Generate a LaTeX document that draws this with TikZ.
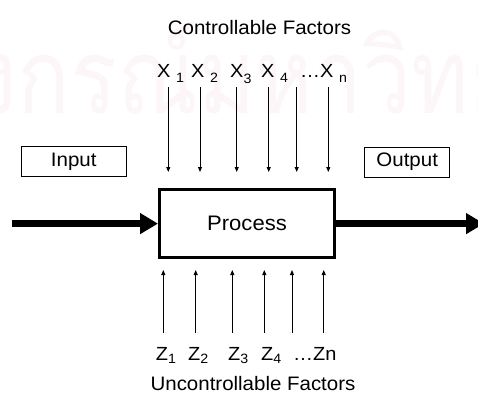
\documentclass[tikz,border=0pt]{standalone}
\usepackage{fontspec}
\setmainfont{Liberation Sans}[FakeStretch=1.05]
\newfontfamily\thaifont[Script=Thai, FakeStretch=0.84]{Loma}
\usetikzlibrary{arrows.meta}
\definecolor{watermark}{RGB}{253,246,249}

\newcommand\fsz[1]{\fontsize{#1}{#1}\selectfont}
\newcommand\lowsub[2]{\raisebox{-#1}{\fsz{13.5}#2}}

\begin{document}
\begin{tikzpicture}[x=1pt,y=-1pt,
  lbl/.style={inner sep=0, anchor=base west, font=\fsz{19}},
  title/.style={inner sep=0, anchor=base, font=\fsz{19.5}},
  tagbox/.style={draw, line width=1pt, inner sep=0, minimum width=#1,
    minimum height=30pt, font=\fsz{19.5}},
  factor/.style={line width=0.9pt, -{Triangle[length=5pt,width=4pt]}},
  flow/.style={line width=7pt, -{Triangle[length=18pt,width=20pt]}},
]
\useasboundingbox (0,0) rectangle (478,392);

% faint background lettering
\node[anchor=base west, inner sep=0, text=watermark, font=\thaifont\fsz{104}]
  (wm) at (17,113) {\llap{จุฬาลง}กรณ์มหาวิทยาลัย};

% headings
\node[title] (ctl) at (259.5,34) {Controllable Factors};
\node[title] (unc) at (253,390) {Uncontrollable Factors};

% the process and its input / output tags
\node[draw, line width=3pt, minimum width=175pt, minimum height=68pt,
  inner sep=0, font=\fsz{21}] (proc) at (247,223.6) {Process};
\node[tagbox=105pt] (in) at (73.7,161.7) {Input};
\node[tagbox=84.7pt] (out) at (407.2,162.2) {Output};

% main flow
\coordinate (src) at (11.7,223.6);
\coordinate (sink) at (484,223.6);
\draw[flow] (src) -- (proc.west);
\draw[flow] (proc.east) -- (sink);

% controllable factors
\node[lbl] (x1) at (157,77) {X \lowsub{5pt}{1}};
\node[lbl] (x2) at (191,77) {X \lowsub{5pt}{2}};
\node[lbl] (x3) at (230,77) {X\lowsub{6pt}{3}};
\node[lbl] (x4) at (261,77) {X \lowsub{5pt}{4}};
\node[lbl] (xn) at (300,77) {…X \lowsub{5pt}{n}};
\foreach \i/\x in {1/168.3,2/200,3/236.7,4/268.7,5/296.7,6/328.3} {
  \coordinate (xa\i) at (\x,87);
  \coordinate (xb\i) at (\x,172);
  \draw[factor] (xa\i) -- (xb\i);
}

% uncontrollable factors
\node[lbl] (z1) at (155.7,360) {Z\lowsub{3pt}{1}};
\node[lbl] (z2) at (188,360) {Z\lowsub{3pt}{2}};
\node[lbl] (z3) at (228,360) {Z\lowsub{3pt}{3}};
\node[lbl] (z4) at (261,360) {Z\lowsub{3pt}{4}};
\node[lbl] (zn) at (293,360) {…Zn};
\foreach \i/\x in {1/163.3,2/195.7,3/232.3,4/264.3,5/292,6/323.7} {
  \coordinate (za\i) at (\x,333);
  \coordinate (zb\i) at (\x,270);
  \draw[factor] (za\i) -- (zb\i);
}
\end{tikzpicture}
\end{document}
